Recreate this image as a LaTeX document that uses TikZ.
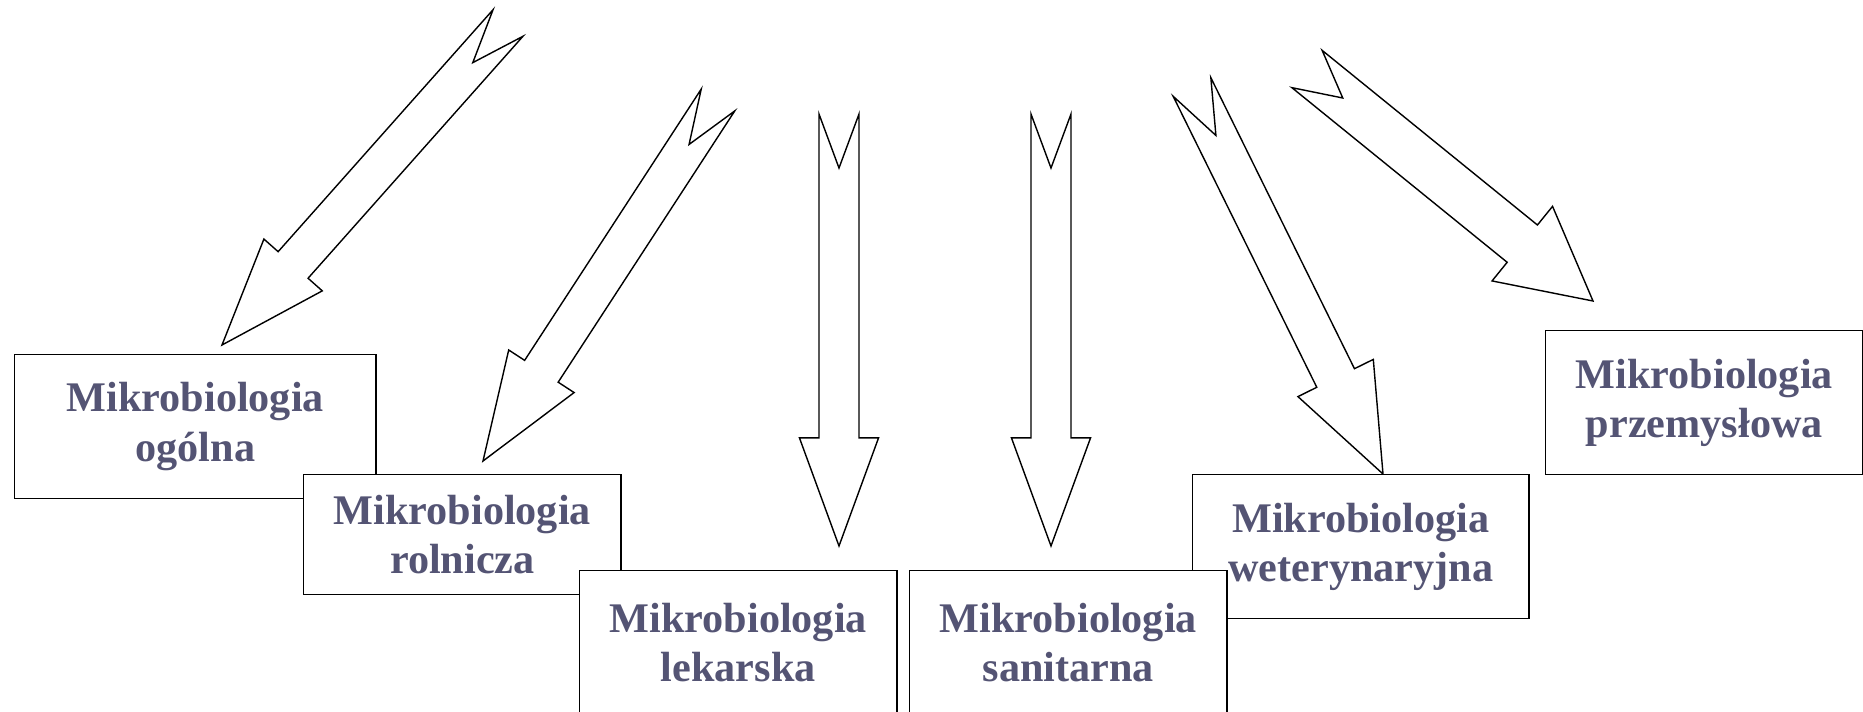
\documentclass[tikz,border=0pt]{standalone}
\usepackage{fontspec}
\setmainfont{Liberation Serif}
\usetikzlibrary{calc}

\definecolor{labelgray}{RGB}{84,84,116}

% block arrow with notched tail: tail, tip, shaft half width, head half width, head length, notch depth
\newcommand{\fatarrow}[6]{%
  \coordinate (hb) at ($(#2)!#5!(#1)$);
  \draw[fatarr] ($(#1)!#3!90:(#2)$) -- ($(hb)!#3!90:(#2)$) -- ($(hb)!#4!90:(#2)$) -- (#2)
    -- ($(hb)!#4!-90:(#2)$) -- ($(hb)!#3!-90:(#2)$) -- ($(#1)!#3!-90:(#2)$)
    -- ($(#1)!#6!(#2)$) -- cycle;
}

\begin{document}
\begin{tikzpicture}[
    x=0.01cm, y=-0.01cm,
    box/.style={draw, fill=white, align=center, inner sep=0pt, anchor=north west, minimum height=1.44cm, minimum width=3.17cm, font=\fontsize{12}{14.1}\selectfont\bfseries, text=labelgray},
    fatarr/.style={draw, fill=white, line join=miter}
]
\useasboundingbox (0,0) rectangle (1863,712);

% Arrow ends
\coordinate (t1) at (508,23);    \coordinate (h1) at (222,345);
\coordinate (t2) at (718,100);   \coordinate (h2) at (483,461);
\coordinate (t3) at (839,114);   \coordinate (h3) at (839,546);
\coordinate (t4) at (1051,114);  \coordinate (h4) at (1051,546);
\coordinate (t5) at (1192,87);   \coordinate (h5) at (1383,474);
\coordinate (t6) at (1307,69);   \coordinate (h6) at (1593,301);

% Arrows
\fatarrow{t1}{h1}{0.2cm}{0.39cm}{1.07cm}{0.53cm}
\fatarrow{t2}{h2}{0.2cm}{0.39cm}{1.07cm}{0.53cm}
\fatarrow{t3}{h3}{0.2cm}{0.395cm}{1.08cm}{0.54cm}
\fatarrow{t4}{h4}{0.2cm}{0.395cm}{1.08cm}{0.54cm}
\fatarrow{t5}{h5}{0.21cm}{0.42cm}{1.07cm}{0.54cm}
\fatarrow{t6}{h6}{0.24cm}{0.48cm}{0.91cm}{0.46cm}

% Boxes
\node[box, minimum width=3.61cm] (ogolna) at (14,354) {Mikrobiologia\\ogólna};
\node[box, minimum height=1.2cm] (rolnicza) at (303,474) {Mikrobiologia\\rolnicza};
\node[box] (lekarska) at (579,570) {Mikrobiologia\\lekarska};
\node[box, minimum width=3.36cm] (weterynaryjna) at (1192,474) {Mikrobiologia\\weterynaryjna};
\node[box] (sanitarna) at (909,570) {Mikrobiologia\\sanitarna};
\node[box] (przemyslowa) at (1545,330) {Mikrobiologia\\przemysłowa};

\end{tikzpicture}
\end{document}
